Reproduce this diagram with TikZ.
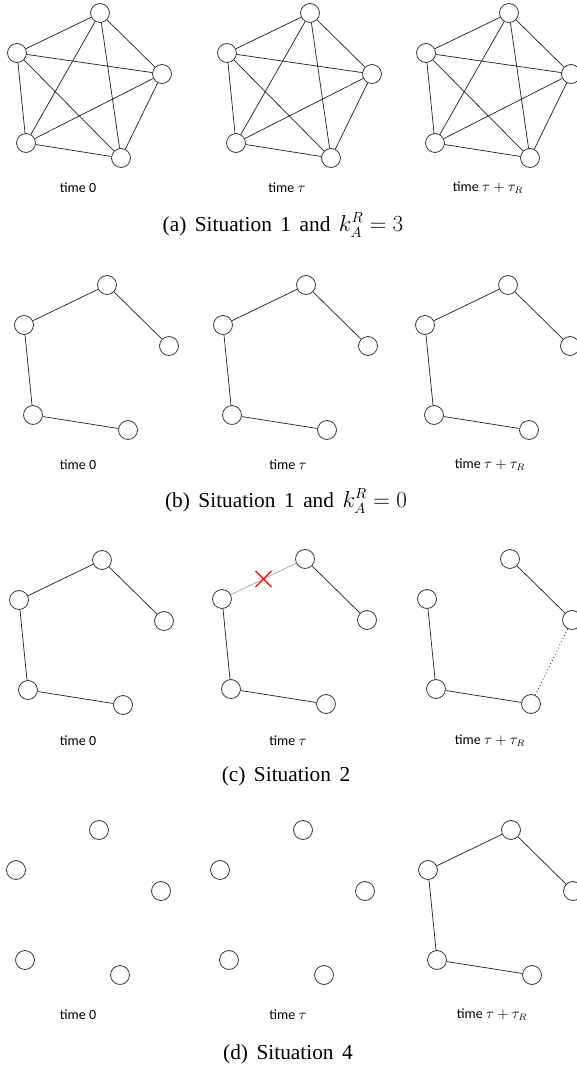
\documentclass[tikz,border=0pt]{standalone}
\usepackage{fontspec}
\setmainfont{Liberation Serif}
\newfontfamily\lblfont{Carlito}
\usetikzlibrary{calc,shapes.misc}

\newcommand{\capfont}{\fontsize{16}{18}\selectfont\spaceskip=0.4em plus 0.1em\relax}

% five stations of one snapshot: prefix, x and y of the top one
\newcommand{\fivestations}[3]{%
  \node[stn] (#1t) at (#2,#3) {};
  \node[stn] (#1l) at (#2-83,#3+40) {};
  \node[stn] (#1r) at (#2+62,#3+61) {};
  \node[stn] (#1bl) at (#2-74,#3+130) {};
  \node[stn] (#1br) at (#2+21,#3+145) {};
}

\begin{document}
\begin{tikzpicture}[x=0.75pt, y=-0.75pt,
  stn/.style={circle, draw=black!80, line width=0.6pt, minimum size=14.2pt, inner sep=0pt, fill=white},
  link/.style={draw=black!85, line width=0.55pt},
  timelbl/.style={font=\lblfont\fontsize{10.5}{12}\selectfont},
  subcap/.style={font=\capfont}]
\useasboundingbox (0,0) rectangle (577,1072);

% (a) full mesh
\fivestations{a1}{100}{13}
\fivestations{a2}{310}{13}
\fivestations{a3}{509}{13}
\foreach \s in {a1,a2,a3} {
  \draw[link] (\s t) -- (\s l) (\s t) -- (\s r) (\s t) -- (\s bl) (\s t) -- (\s br)
    (\s l) -- (\s r) (\s l) -- (\s bl) (\s l) -- (\s br)
    (\s r) -- (\s bl) (\s r) -- (\s br) (\s bl) -- (\s br);
}
\node[timelbl] (a1-lbl) at (78,188) {time 0};
\node[timelbl] (a2-lbl) at (287,188) {time $\tau$};
\node[timelbl] (a3-lbl) at (488,188) {time $\tau+\tau_R$};
\node[subcap] (a-cap) at (283,225) {(a) Situation 1 and $k_A^R=3$};

% (b) chain
\fivestations{b1}{107}{285}
\fivestations{b2}{306}{285}
\fivestations{b3}{508}{285}
\foreach \s in {b1,b2,b3} {
  \draw[link] (\s l) -- (\s t) (\s t) -- (\s r) (\s l) -- (\s bl) (\s bl) -- (\s br);
}
\node[timelbl] (b1-lbl) at (78,465) {time 0};
\node[timelbl] (b2-lbl) at (288,465) {time $\tau$};
\node[timelbl] (b3-lbl) at (490,465) {time $\tau+\tau_R$};
\node[subcap] (b-cap) at (286,501) {(b) Situation 1 and $k_A^R=0$};

% (c) link lost, then repaired
\fivestations{c1}{102}{560}
\fivestations{c2}{305}{559}
\fivestations{c3}{510}{559}
\draw[link] (c1l) -- (c1t) (c1t) -- (c1r) (c1l) -- (c1bl) (c1bl) -- (c1br);
\draw[draw=black!35, line width=0.55pt] (c2l) -- (c2t);
\draw[link] (c2t) -- (c2r) (c2l) -- (c2bl) (c2bl) -- (c2br);
\node[cross out, draw=red, line width=1pt, minimum size=11pt, inner sep=0pt] (c2-x) at ($(c2l)!0.5!(c2t)$) {};
\draw[link] (c3t) -- (c3r) (c3l) -- (c3bl) (c3bl) -- (c3br);
\draw[blue, dotted, line width=0.6pt] (c3br) -- (c3r);
\node[timelbl] (c1-lbl) at (78,741) {time 0};
\node[timelbl] (c2-lbl) at (288,741) {time $\tau$};
\node[timelbl] (c3-lbl) at (490,741) {time $\tau+\tau_R$};
\node[subcap] (c-cap) at (286,776) {(c) Situation 2};

% (d) no links until the end
\fivestations{d1}{99}{830}
\fivestations{d2}{303}{830}
\fivestations{d3}{511}{830}
\draw[link] (d3l) -- (d3t) (d3t) -- (d3r) (d3l) -- (d3bl) (d3bl) -- (d3br);
\node[timelbl] (d1-lbl) at (78,1015) {time 0};
\node[timelbl] (d2-lbl) at (288,1015) {time $\tau$};
\node[timelbl] (d3-lbl) at (492,1015) {time $\tau+\tau_R$};
\node[subcap] (d-cap) at (288,1054) {(d) Situation 4};
\end{tikzpicture}
\end{document}
